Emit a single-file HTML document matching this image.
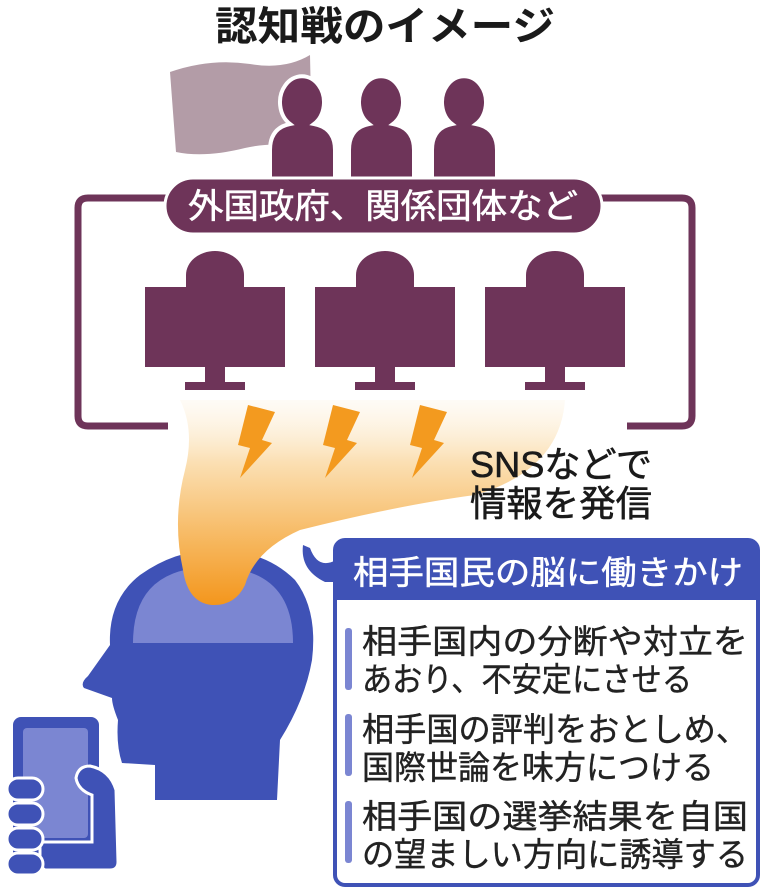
<!DOCTYPE html>
<html><head><meta charset="utf-8"><style>
html,body{margin:0;padding:0;background:#fff}
svg{display:block}
text{font-family:"Liberation Sans","Noto Sans CJK JP",sans-serif}
</style></head><body>
<svg width="768" height="891" viewBox="0 0 768 891" xmlns="http://www.w3.org/2000/svg">
<defs>
<linearGradient id="fl" x1="0" y1="0" x2="0" y2="1">
<stop offset="0" stop-color="#fdf3e2" stop-opacity="0.3"/>
<stop offset="0.3" stop-color="#fbe0b4"/>
<stop offset="0.65" stop-color="#f7bb66"/>
<stop offset="1" stop-color="#f3961c"/>
</linearGradient>
</defs>
<text x="385" y="40" text-anchor="middle" font-size="40" font-weight="bold" fill="#1a1a1a" textLength="340" lengthAdjust="spacingAndGlyphs">認知戦のイメージ</text>
<!-- flag -->
<path d="M170 72 Q210 58 250 64 Q285 70 310 55 L312 150 Q280 140 245 148 Q205 158 176 152 Z" fill="#b39ca7"/>
<!-- people -->
<g fill="#6e3459" stroke="#fff" stroke-width="4">
<path d="M270 190 L270 150 Q270 128 290 124 A22 26 0 1 1 314 124 Q335 128 335 150 L335 190Z"/>
<path d="M349 190 L349 150 Q349 128 369 124 A22 26 0 1 1 393 124 Q414 128 414 150 L414 190Z"/>
<path d="M432 190 L432 150 Q432 128 452 124 A22 26 0 1 1 476 124 Q497 128 497 150 L497 190Z"/>
</g>
<!-- frame -->
<path d="M168 426 L88 426 Q78 426 78 416 L78 208 Q78 198 88 198 L682 198 Q692 198 692 208 L692 416 Q692 426 682 426 L627 426" fill="none" stroke="#6e3459" stroke-width="7"/>
<rect x="165" y="178" width="437" height="56" rx="28" fill="#6e3459" stroke="#fff" stroke-width="3"/>
<text x="383" y="218" text-anchor="middle" font-size="34" fill="#fff" stroke="#fff" stroke-width="0.6" textLength="390" lengthAdjust="spacingAndGlyphs">外国政府、関係団体など</text>
<!-- monitors -->
<g fill="#6e3459">
<path d="M186 287 L186 275 A29 24 0 0 1 244 275 L244 287Z"/><rect x="145" y="287" width="140" height="80"/><rect x="205" y="367" width="20" height="17"/><rect x="185" y="382" width="60" height="8"/>
<path d="M356 287 L356 275 A29 24 0 0 1 414 275 L414 287Z"/><rect x="315" y="287" width="140" height="80"/><rect x="375" y="367" width="20" height="17"/><rect x="355" y="382" width="60" height="8"/>
<path d="M526 287 L526 275 A29 24 0 0 1 584 275 L584 287Z"/><rect x="485" y="287" width="140" height="80"/><rect x="545" y="367" width="20" height="17"/><rect x="525" y="382" width="60" height="8"/>
</g>
<!-- head -->
<path d="M155 800 L155 765 L122 763 Q116 745 118 720 Q112 705 112 698 L84 688 Q80 683 88 676 L110 645 Q108 600 140 575 Q175 550 215 550 Q265 550 295 580 Q318 610 312 660 Q305 700 280 740 L277 800Z" fill="#3f52b6"/>
<path d="M133 643 Q133 567 213 567 Q293 567 293 643Z" fill="#7b86d2"/>
<!-- flow -->
<path d="M180 400 L565 400 Q560 470 475 495 Q400 505 300 530 Q255 550 245 585 Q235 606 212 605 Q188 603 183 570 Q172 520 185 470 Q195 430 180 400Z" fill="url(#fl)"/>
<!-- bolts -->
<g fill="#f39a1f">
<path d="M248 405 L275 412 L262 440 L272 443 L240 478 L250 448 L238 445Z"/>
<path d="M333 405 L360 412 L347 440 L357 443 L325 478 L335 448 L323 445Z"/>
<path d="M420 405 L447 412 L434 440 L444 443 L412 478 L422 448 L410 445Z"/>
</g>
<text x="470" y="477" font-size="36" fill="#1a1a1a" stroke="#1a1a1a" stroke-width="0.6" textLength="182" lengthAdjust="spacingAndGlyphs">SNSなどで</text>
<text x="470" y="516" font-size="36" fill="#1a1a1a" stroke="#1a1a1a" stroke-width="0.6" textLength="182" lengthAdjust="spacingAndGlyphs">情報を発信</text>
<!-- phone -->
<rect x="13" y="717" width="86" height="152" rx="8" fill="#3f52b6"/>
<rect x="23" y="728" width="65" height="110" rx="4" fill="#7b86d2"/>
<path d="M40 866 L40 842 L92 842 L92 795 Q78 790 76 778 Q78 766 90 766 Q110 770 116 790 L118 862 Q118 870 110 870 L45 870Z" fill="#3f52b6" stroke="#fff" stroke-width="3"/>
<g fill="#3f52b6" stroke="#fff" stroke-width="3">
<rect x="7" y="778" width="36" height="22" rx="11"/>
<rect x="7" y="803" width="36" height="22" rx="11"/>
<rect x="7" y="828" width="36" height="22" rx="11"/>
<rect x="7" y="853" width="36" height="22" rx="11"/>
</g>
<!-- speech box -->
<path d="M303 545 Q300 570 325 582 L336 582 L336 560 Q318 570 310 548Z" fill="#3f52b6"/>
<rect x="335" y="540" width="423" height="345" rx="10" fill="#fff" stroke="#3f52b6" stroke-width="4"/>
<path d="M335 550 Q335 540 345 540 L748 540 Q758 540 758 550 L758 600 L335 600Z" fill="#3f52b6"/>
<text x="353" y="584" font-size="33" fill="#fff" stroke="#fff" stroke-width="0.5" textLength="390" lengthAdjust="spacingAndGlyphs">相手国民の脳に働きかけ</text>
<g fill="#7b86d2">
<rect x="345" y="628" width="7" height="62" rx="3"/>
<rect x="345" y="714" width="7" height="62" rx="3"/>
<rect x="345" y="801" width="7" height="62" rx="3"/>
</g>
<g font-size="33" fill="#222" stroke="#222" stroke-width="0.4">
<text x="362" y="653" textLength="386" lengthAdjust="spacingAndGlyphs">相手国内の分断や対立を</text>
<text x="362" y="691" textLength="330" lengthAdjust="spacingAndGlyphs">あおり、不安定にさせる</text>
<text x="362" y="741" textLength="386" lengthAdjust="spacingAndGlyphs">相手国の評判をおとしめ、</text>
<text x="362" y="779" textLength="352" lengthAdjust="spacingAndGlyphs">国際世論を味方につける</text>
<text x="362" y="828" textLength="386" lengthAdjust="spacingAndGlyphs">相手国の選挙結果を自国</text>
<text x="362" y="866" textLength="386" lengthAdjust="spacingAndGlyphs">の望ましい方向に誘導する</text>
</g>
</svg>
</body></html>
